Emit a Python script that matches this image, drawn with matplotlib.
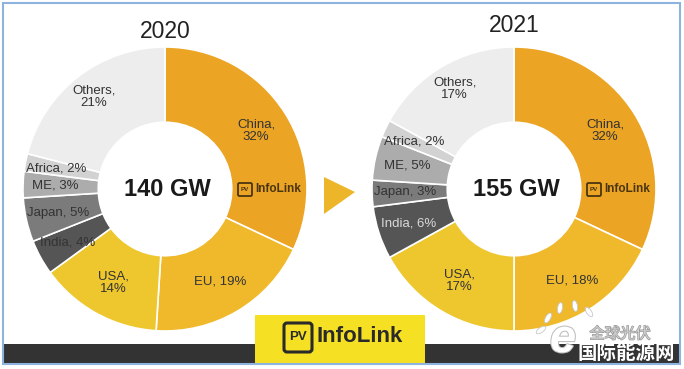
import numpy as np
import matplotlib
matplotlib.use("Agg")
import matplotlib.pyplot as plt
import matplotlib.patheffects as pe
from matplotlib.patches import Rectangle, Polygon, FancyBboxPatch, Ellipse

plt.rcParams['font.family'] = ['Liberation Sans', 'Noto Sans CJK SC', 'DejaVu Sans']

# data
regions = ["China", "EU", "USA", "India", "Japan", "ME", "Africa", "Others"]
share_2020 = [32, 19, 14, 4, 5, 3, 2, 21]
share_2021 = [32, 18, 17, 6, 3, 5, 2, 17]
totals = ["140 GW", "155 GW"]
years = ["2020", "2021"]
two_line = ["China", "USA", "Others"]

colors = ["#eba423", "#efb92b", "#eec72e", "#555555", "#7b7b7b",
          "#acacac", "#d2d2d2", "#ededed"]

W, H = 684, 369
fig = plt.figure(figsize=(6.84, 3.69), dpi=100)
ax = fig.add_axes([0, 0, 1, 1])


def py(y):
    # pixel row -> data y
    return H - y


centers = [(165, py(189)), (514, py(189))]
title_rows = [32, 26]
R = 142
label_r = [0.76, 0.76, 0.75, 0.78, 0.77, 0.77, 0.78, 0.82]

for k, shares in enumerate([share_2020, share_2021]):
    cx, cy = centers[k]
    ax.pie(shares, colors=colors, startangle=90, counterclock=False,
           center=(cx, cy), radius=R,
           wedgeprops=dict(width=R * 0.53, edgecolor="white", linewidth=1.2))
    cum = np.cumsum([0] + shares[:-1])
    for i, name in enumerate(regions):
        mid = 90 - (cum[i] + shares[i] / 2) * 3.6
        r = R * label_r[i]
        tx = cx + r * np.cos(np.radians(mid))
        ty = cy + r * np.sin(np.radians(mid))
        sep = ",\n" if name in two_line else ", "
        txt_color = "#d8d8d8" if (name == "India" and k == 1) else "#333333"
        ax.text(tx, ty, f"{name}{sep}{shares[i]}%", ha="center", va="center",
                fontsize=9.5, color=txt_color, linespacing=1.05)
    ax.text(cx + 2, cy, totals[k], ha="center", va="center", fontsize=17,
            fontweight="bold", color="#1a1a1a")
    ax.text(cx, py(title_rows[k]), years[k], ha="center", va="center",
            fontsize=16.5, color="#222222")
    # small InfoLink mark inside China wedge
    lx = cx + 73
    ax.add_patch(FancyBboxPatch((lx, cy - 7), 14, 13,
                                boxstyle="round,pad=0,rounding_size=1.5",
                                fill=False, edgecolor="#4a3510", linewidth=1.3))
    ax.text(lx + 7, cy - 0.5, "PV", ha="center", va="center", fontsize=4.5,
            fontweight="bold", color="#4a3510")
    ax.text(lx + 17, cy - 0.5, "InfoLink", ha="left", va="center",
            fontsize=8.5, fontweight="bold", color="#4a3510")

# arrow between the donuts
ax.add_patch(Polygon([(324, py(177)), (324, py(214)), (355, py(192))],
                     closed=True, facecolor="#edb52a", edgecolor="none"))

# bottom dark bar
ax.add_patch(Rectangle((4, py(363)), 675, 19, facecolor="#333333",
                       edgecolor="none", zorder=3))
# yellow logo box
ax.add_patch(Rectangle((255, py(363)), 170, 48, facecolor="#f6e024",
                       edgecolor="none", zorder=4))
ax.add_patch(FancyBboxPatch((284, py(352)), 28, 29,
                            boxstyle="round,pad=0,rounding_size=3",
                            fill=False, edgecolor="#2a2a2a", linewidth=2.2,
                            zorder=5))
ax.text(298, py(337.5), "PV", ha="center", va="center", fontsize=9.5,
        fontweight="bold", color="#2a2a2a", zorder=6)
ax.text(317, py(337), "InfoLink", ha="left", va="center", fontsize=16,
        fontweight="bold", color="#2a2a2a", zorder=6)

# watermark
halo = [pe.withStroke(linewidth=1.5, foreground="#bdbdbd")]
for ex, ey, ang in [(548, 318, 60), (560, 308, 80), (575, 306, 100),
                    (589, 312, 125), (541, 330, 35)]:
    ax.add_patch(Ellipse((ex, py(ey)), 5, 11, angle=ang - 90,
                         facecolor="white", edgecolor="#c8c8c8",
                         linewidth=0.6, zorder=6))
ax.text(563, py(340), "e", ha="center", va="center", fontsize=34,
        fontweight="bold", color="white", style="italic", zorder=6,
        path_effects=halo)
ax.text(620, py(334), "全球光伏", ha="center", va="center", fontsize=11,
        color="#cfcfcf", family=["Noto Sans CJK SC"], zorder=6,
        path_effects=[pe.withStroke(linewidth=1, foreground="#9a9a9a")])
ax.text(626, py(353), "国际能源网", ha="center", va="center", fontsize=14,
        fontweight="bold", color="white", family=["Noto Sans CJK SC"],
        zorder=6)

# light blue frame
ax.add_patch(Rectangle((3, py(364)), 677, 361, fill=False,
                       edgecolor="#8db3de", linewidth=1.5, zorder=7))

ax.set_xlim(0, W)
ax.set_ylim(0, H)
ax.set_aspect("auto")
ax.axis("off")

fig.savefig("out.png", dpi=100)
